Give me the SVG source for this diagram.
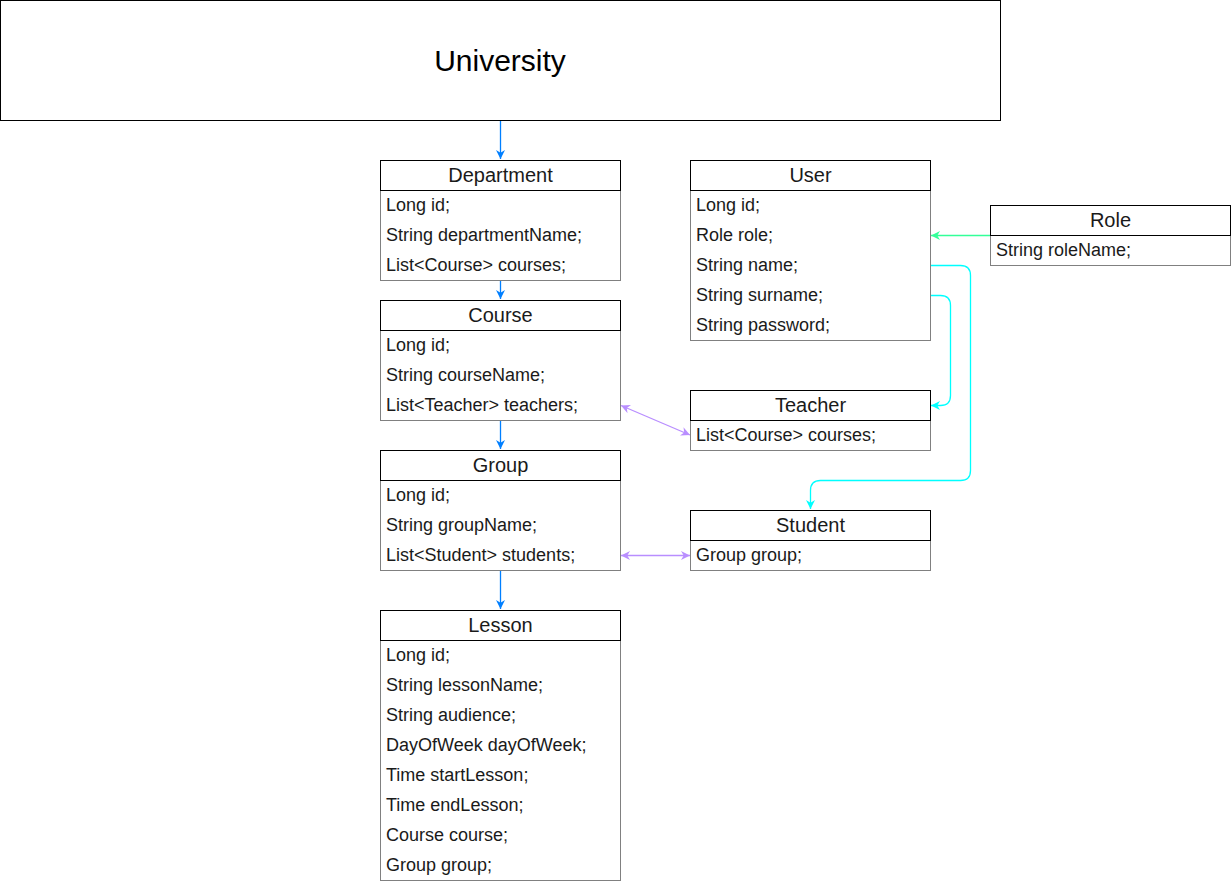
<svg xmlns="http://www.w3.org/2000/svg" width="1231" height="881" viewBox="0 0 1231 881">
<defs>
<style>
.hd{fill:#fff;stroke:#000;stroke-width:1}
.bd{fill:#fff;stroke:#808080;stroke-width:1}
.ht{font-family:"Liberation Sans",Arial,sans-serif;font-size:20px;fill:#1a1a1a;text-anchor:middle}
.ft{font-family:"Liberation Sans",Arial,sans-serif;font-size:18px;fill:#1a1a1a}
.c{fill:none;stroke-width:1.3}
.blue{stroke:#007fff}
.green{stroke:#33ff99}
.cyan{stroke:#00ffff}
.purple{stroke:#b98eff}
</style>
<marker id="ab" viewBox="0 0 10 10" refX="10" refY="5" markerWidth="9" markerHeight="9" markerUnits="userSpaceOnUse" orient="auto-start-reverse"><path d="M0,0 L10,5 L0,10 L3,5 Z" fill="#007fff"/></marker>
<marker id="ag" viewBox="0 0 10 10" refX="10" refY="5" markerWidth="9" markerHeight="9" markerUnits="userSpaceOnUse" orient="auto-start-reverse"><path d="M0,0 L10,5 L0,10 L3,5 Z" fill="#33ff99"/></marker>
<marker id="ac" viewBox="0 0 10 10" refX="10" refY="5" markerWidth="9" markerHeight="9" markerUnits="userSpaceOnUse" orient="auto-start-reverse"><path d="M0,0 L10,5 L0,10 L3,5 Z" fill="#00ffff"/></marker>
<marker id="ap" viewBox="0 0 10 10" refX="10" refY="5" markerWidth="9" markerHeight="9" markerUnits="userSpaceOnUse" orient="auto-start-reverse"><path d="M0,0 L10,5 L0,10 L3,5 Z" fill="#b98eff"/></marker>
</defs>
<rect width="1231" height="881" fill="#fff"/>

<g id="connectors">
<path class="c blue" d="M500.5,120.5 V159" marker-end="url(#ab)"/>
<path class="c blue" d="M500.5,280.5 V299" marker-end="url(#ab)"/>
<path class="c blue" d="M500.5,420.5 V449" marker-end="url(#ab)"/>
<path class="c blue" d="M500.5,570.5 V609" marker-end="url(#ab)"/>
<path class="c green" d="M990.5,235.5 H931" marker-end="url(#ag)"/>
<path class="c cyan" d="M930.5,265.5 H960.5 Q970.5,265.5 970.5,275.5 V470.5 Q970.5,480.5 960.5,480.5 H820.5 Q810.5,480.5 810.5,490.5 V509" marker-end="url(#ac)"/>
<path class="c cyan" d="M930.5,295.5 H940.5 Q950.5,295.5 950.5,305.5 V395.5 Q950.5,405.5 940.5,405.5 H931" marker-end="url(#ac)"/>
<path class="c purple" d="M621,405.5 L690,435" marker-start="url(#ap)" marker-end="url(#ap)"/>
<path class="c purple" d="M621,555.5 H690" marker-start="url(#ap)" marker-end="url(#ap)"/>
</g>

<g id="university">
<rect x="0.5" y="0.5" width="1000" height="120" fill="#fff" stroke="#000"/>
<text x="500" y="71" font-family="Liberation Sans,Arial,sans-serif" font-size="30" fill="#000" text-anchor="middle">University</text>
</g>

<g id="department">
<rect class="bd" x="380.5" y="190.5" width="240" height="90"/>
<rect class="hd" x="380.5" y="160.5" width="240" height="30"/>
<text class="ht" x="500.5" y="182">Department</text>
<text class="ft" x="386" y="211">Long id;</text>
<text class="ft" x="386" y="241">String departmentName;</text>
<text class="ft" x="386" y="271">List&lt;Course&gt; courses;</text>
</g>

<g id="course">
<rect class="bd" x="380.5" y="330.5" width="240" height="90"/>
<rect class="hd" x="380.5" y="300.5" width="240" height="30"/>
<text class="ht" x="500.5" y="322">Course</text>
<text class="ft" x="386" y="351">Long id;</text>
<text class="ft" x="386" y="381">String courseName;</text>
<text class="ft" x="386" y="411">List&lt;Teacher&gt; teachers;</text>
</g>

<g id="group">
<rect class="bd" x="380.5" y="480.5" width="240" height="90"/>
<rect class="hd" x="380.5" y="450.5" width="240" height="30"/>
<text class="ht" x="500.5" y="472">Group</text>
<text class="ft" x="386" y="501">Long id;</text>
<text class="ft" x="386" y="531">String groupName;</text>
<text class="ft" x="386" y="561">List&lt;Student&gt; students;</text>
</g>

<g id="lesson">
<rect class="bd" x="380.5" y="640.5" width="240" height="240"/>
<rect class="hd" x="380.5" y="610.5" width="240" height="30"/>
<text class="ht" x="500.5" y="632">Lesson</text>
<text class="ft" x="386" y="661">Long id;</text>
<text class="ft" x="386" y="691">String lessonName;</text>
<text class="ft" x="386" y="721">String audience;</text>
<text class="ft" x="386" y="751">DayOfWeek dayOfWeek;</text>
<text class="ft" x="386" y="781">Time startLesson;</text>
<text class="ft" x="386" y="811">Time endLesson;</text>
<text class="ft" x="386" y="841">Course course;</text>
<text class="ft" x="386" y="871">Group group;</text>
</g>

<g id="user">
<rect class="bd" x="690.5" y="190.5" width="240" height="150"/>
<rect class="hd" x="690.5" y="160.5" width="240" height="30"/>
<text class="ht" x="810.5" y="182">User</text>
<text class="ft" x="696" y="211">Long id;</text>
<text class="ft" x="696" y="241">Role role;</text>
<text class="ft" x="696" y="271">String name;</text>
<text class="ft" x="696" y="301">String surname;</text>
<text class="ft" x="696" y="331">String password;</text>
</g>

<g id="role">
<rect class="bd" x="990.5" y="235.5" width="240" height="30"/>
<rect class="hd" x="990.5" y="205.5" width="240" height="30"/>
<text class="ht" x="1110.5" y="227">Role</text>
<text class="ft" x="996" y="256">String roleName;</text>
</g>

<g id="teacher">
<rect class="bd" x="690.5" y="420.5" width="240" height="30"/>
<rect class="hd" x="690.5" y="390.5" width="240" height="30"/>
<text class="ht" x="810.5" y="412">Teacher</text>
<text class="ft" x="696" y="441">List&lt;Course&gt; courses;</text>
</g>

<g id="student">
<rect class="bd" x="690.5" y="540.5" width="240" height="30"/>
<rect class="hd" x="690.5" y="510.5" width="240" height="30"/>
<text class="ht" x="810.5" y="532">Student</text>
<text class="ft" x="696" y="561">Group group;</text>
</g>
</svg>
